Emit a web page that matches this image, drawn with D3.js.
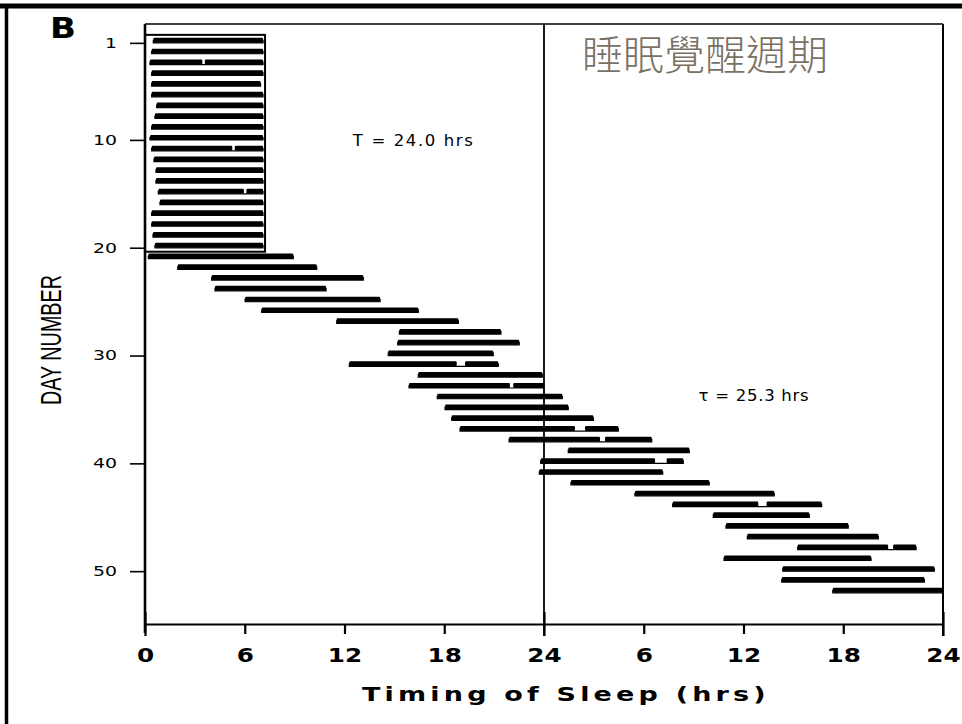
<!DOCTYPE html>
<html><head><meta charset="utf-8">
<script src="https://cdn.jsdelivr.net/npm/d3@7/dist/d3.min.js"></script>
<style>html,body{margin:0;padding:0;background:#fff;} svg{display:block;}</style>
</head><body>
<svg id="chart" width="962" height="724"></svg>
<script>
// ---------- DATA ----------
const dayNumbers = d3.range(1, 53);
const sleepOnset = [
  0.5,0.4,0.3,0.4,0.4,0.4,0.7,0.6,0.4,0.3,0.4,0.54,0.66,0.66,0.8,0.9,0.4,0.4,0.48,0.6,
  0.2,1.97,4.01,4.21,6.02,7.02,11.53,15.3,15.2,14.63,12.29,16.44,15.88,17.58,18.05,18.45,
  18.95,21.9,25.46,23.8,23.72,25.62,29.47,31.74,34.18,34.95,36.23,39.26,34.83,38.36,38.3,41.37
];
const sleepOffset = [
  7.1,7.1,7.1,7.1,6.95,7.1,7.1,7.1,7.1,7.1,7.1,7.1,7.1,7.1,7.1,7.1,7.1,7.1,7.1,7.1,
  8.92,10.33,13.13,10.89,14.14,16.44,18.85,21.41,22.51,20.95,21.25,23.9,24.0,25.1,25.46,26.97,
  28.47,30.48,32.74,32.38,31.14,33.94,37.85,40.7,39.96,42.3,44.11,46.38,43.67,47.48,46.88,48.0
];
const gapDays  = [3, 11, 15, 31, 33, 37, 38, 40, 44, 48];
const gapStart = [3.45, 5.25, 5.95, 18.75, 21.95, 25.86, 27.37, 30.68, 36.89, 44.7];
const gapEnd   = [3.6, 5.4, 6.1, 19.25, 22.15, 26.47, 27.67, 31.38, 37.39, 45.0];
const entrainedDays = [1, 20];
const xTickValues = [0, 6, 12, 18, 24, 30, 36, 42, 48];
const xTickLabels = ["0", "6", "12", "18", "24", "6", "12", "18", "24"];
const yTickValues = [1, 10, 20, 30, 40, 50];
const periodLabels = ["T = 24.0 hrs", "τ = 25.3 hrs"];
const periodLabelPos = [{day: 10.5, hour: 12.5}, {day: 34.1, hour: 33.3}];
const titleText = "睡眠覺醒週期";
const panelLetter = "B";
const xTitle = "Timing of Sleep (hrs)";
const yTitle = "DAY NUMBER";

// ---------- SCALES ----------
const svg = d3.select("#chart");
const x = d3.scaleLinear().domain([0, 48]).range([145, 943]);
const y = d3.scaleLinear().domain([-0.75, 54.9]).range([24, 624]);
const plotTop = y.range()[0], plotBottom = y.range()[1];

// outer slide frame
svg.append("line").attr("x1", 0).attr("x2", 962).attr("y1", 6).attr("y2", 6)
  .attr("stroke", "#000").attr("stroke-width", 5);
svg.append("line").attr("x1", 6.5).attr("x2", 6.5).attr("y1", 4).attr("y2", 724)
  .attr("stroke", "#000").attr("stroke-width", 3.5);

// panel letter
svg.append("text").attr("x", 50).attr("y", 38).text(panelLetter)
  .attr("font-family", "DejaVu Sans").attr("font-weight", "bold").attr("font-size", 28)
  .attr("textLength", 26).attr("lengthAdjust", "spacingAndGlyphs");

// plot frame
const frame = svg.append("g").attr("stroke", "#000").attr("fill", "none");
frame.append("line").attr("x1", x(0)).attr("x2", x(48)).attr("y1", plotTop).attr("y2", plotTop).attr("stroke-width", 1.6);
frame.append("line").attr("x1", x(24)).attr("x2", x(24)).attr("y1", plotTop).attr("y2", plotBottom + 12).attr("stroke-width", 1.8);
frame.append("line").attr("x1", x(48)).attr("x2", x(48)).attr("y1", plotTop).attr("y2", plotBottom + 12).attr("stroke-width", 2);

// ---------- BARS ----------
const rows = dayNumbers.map((d, i) => {
  const on = sleepOnset[i], off = sleepOffset[i];
  const gi = gapDays.indexOf(d);
  const segs = gi >= 0 ? [[on, gapStart[gi]], [gapEnd[gi], off]] : [[on, off]];
  return {day: d, on, off, segs};
});
const barH = 5;
const yc = d => y(d) - 2.5;
const bars = svg.append("g");
const rowG = bars.selectAll("g").data(rows).join("g");
rowG.selectAll("rect").data(r => r.segs.map(s => ({day: r.day, s: s[0], e: s[1]}))).join("rect")
  .attr("x", s => x(s.s)).attr("width", s => Math.max(0, x(s.e) - x(s.s)))
  .attr("y", s => yc(s.day) - barH / 2).attr("height", barH)
  .attr("rx", 1.2).attr("fill", "#000");
rowG.append("path")
  .attr("d", r => `M${x(r.on)},${yc(r.day) - 0.5}V${yc(r.day) + 2.6}H${x(r.off)}V${yc(r.day) - 0.5}`)
  .attr("fill", "none").attr("stroke", "#000").attr("stroke-width", 1.2);

// entrained box (days 1-20)
const boxIdx = dayNumbers.filter(d => d >= entrainedDays[0] && d <= entrainedDays[1]).map(d => d - 1);
const boxRight = x(d3.max(boxIdx, i => sleepOffset[i])) + 2;
svg.append("rect").attr("x", x(0)).attr("y", y(entrainedDays[0]) - 8)
  .attr("width", boxRight - x(0)).attr("height", y(entrainedDays[1]) + 4 - (y(entrainedDays[0]) - 8))
  .attr("fill", "none").attr("stroke", "#000").attr("stroke-width", 2);

// ---------- AXES ----------
const xAxis = svg.append("g").attr("transform", `translate(0,${plotBottom})`)
  .call(d3.axisBottom(x).tickValues(xTickValues).tickSize(10).tickSizeOuter(0).tickPadding(9)
    .tickFormat((d, i) => xTickLabels[i]));
xAxis.select(".domain").attr("stroke-width", 2);
xAxis.selectAll(".tick line").attr("stroke-width", 2.2)
  .attr("y1", (d, i) => (i % 4 === 0 ? -12 : 0)).attr("y2", (d, i) => (i % 4 === 0 ? 12 : 10));
xAxis.selectAll(".tick text")
  .attr("font-family", "DejaVu Sans").attr("font-weight", "bold").attr("font-size", 19)
  .attr("fill", "#000")
  .each(function() {
    const t = d3.select(this);
    const yy = +t.attr("y");
    t.attr("y", null).attr("dy", null)
     .attr("transform", `translate(0,${yy + 19}) scale(1.3,1)`);
  });

const yAxis = svg.append("g").attr("transform", `translate(${x(0)},0)`)
  .call(d3.axisLeft(y).tickValues(yTickValues).tickSize(15).tickSizeOuter(0).tickPadding(13));
yAxis.select(".domain").remove();
yAxis.selectAll(".tick line").attr("stroke-width", 1.6);
yAxis.selectAll(".tick text")
  .attr("font-family", "DejaVu Sans").attr("font-size", 13.5).attr("fill", "#000")
  .each(function() {
    const t = d3.select(this);
    const xx = +t.attr("x");
    t.attr("x", null).attr("transform", `translate(${xx},0) scale(1.4,1)`);
  });
svg.append("line").attr("x1", x(0)).attr("x2", x(0)).attr("y1", plotTop).attr("y2", plotBottom + 9)
  .attr("stroke", "#000").attr("stroke-width", 2.6);

// axis titles
svg.append("text").attr("transform", "translate(362,701) scale(1.35,1)").text(xTitle)
  .attr("font-family", "DejaVu Sans").attr("font-weight", "bold").attr("font-size", 20)
  .attr("textLength", 299).attr("lengthAdjust", "spacing");
svg.append("text").attr("transform", `translate(61,340) rotate(-90)`).attr("text-anchor", "middle")
  .text(yTitle).attr("font-family", "Liberation Sans").attr("font-size", 29)
  .attr("textLength", 130).attr("lengthAdjust", "spacingAndGlyphs");

// period annotations
svg.selectAll(".period").data(periodLabels).join("text").attr("class", "period")
  .attr("x", (d, i) => x(periodLabelPos[i].hour)).attr("y", (d, i) => y(periodLabelPos[i].day) + 1)
  .text(d => d).attr("font-family", "DejaVu Sans").attr("font-size", 16.5)
  .attr("textLength", (d, i) => (i === 0 ? 120 : 110)).attr("lengthAdjust", "spacing");

// Chinese title
svg.append("text").attr("x", 582).attr("y", 70).text(titleText)
  .attr("font-family", "Noto Sans CJK TC").attr("font-size", 41).attr("font-weight", 300)
  .attr("fill", "#7b7064");
</script>
</body></html>
